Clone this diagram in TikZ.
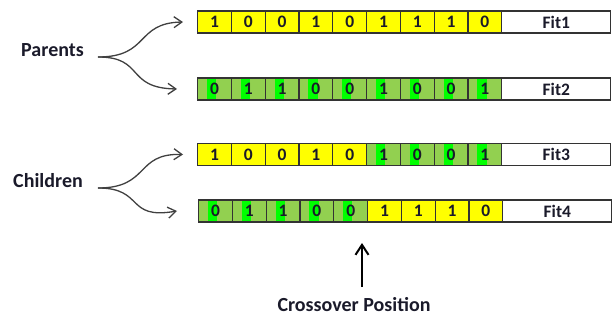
\documentclass[tikz,border=0pt]{standalone}
\usepackage{fontspec}
\setmainfont{Carlito}
\usetikzlibrary{arrows.meta}
\definecolor{cyel}{HTML}{FFFF00}
\definecolor{clg}{HTML}{92D050}
\definecolor{cbg}{HTML}{00FF00}
\definecolor{cbd}{HTML}{333333}
\definecolor{ctx}{HTML}{1A1A2A}
\tikzset{
  cell/.style={draw=cbd, line width=1.2pt, minimum width=33.8pt, minimum height=22pt,
    inner sep=0pt, anchor=west, text=ctx, font=\fontsize{17.5}{17.5}\selectfont\bfseries},
  Y/.style={cell, fill=cyel},
  G/.style={cell, fill=clg, path picture={\fill[cbg]
      ([xshift=9.4pt]path picture bounding box.south west) rectangle
      ([xshift=18.6pt]path picture bounding box.north west);}},
  fitbox/.style={draw=cbd, line width=1.2pt, minimum width=109pt, minimum height=22pt,
    inner sep=0pt, anchor=west, fill=white, text=ctx, font=\fontsize{17.5}{17.5}\selectfont\bfseries},
  lbl/.style={anchor=base, text=ctx, font=\fontsize{20}{20}\selectfont\bfseries},
  curv/.style={-{Straight Barb[length=8pt,width=11pt]}, line width=1.3pt, draw=black!75},
  uparr/.style={-{Straight Barb[length=10pt,width=13pt]}, line width=2pt, draw=black}
}
\begin{document}
\begin{tikzpicture}[x=1pt,y=-1pt]
\useasboundingbox (0,0) rectangle (615,320);

% Row 1 (parent 1)
\foreach \k/\v [count=\i] in {Y/1,Y/0,Y/0,Y/1,Y/0,Y/1,Y/1,Y/1,Y/0}
  \node[\k] (ra\i) at ({197+(\i-1)*33.8},22) {\v\hspace{6pt}};
\node[fitbox] (fa) at (501.2,22) {Fit1};

% Row 2 (parent 2)
\foreach \k/\v [count=\i] in {G/0,G/1,G/1,G/0,G/0,G/1,G/0,G/0,G/1}
  \node[\k] (rb\i) at ({197+(\i-1)*33.8},89) {\v\hspace{6pt}};
\node[fitbox] (fb) at (501.2,89) {Fit2};

% Row 3 (child 1)
\foreach \k/\v [count=\i] in {Y/1,Y/0,Y/0,Y/1,Y/0,G/1,G/0,G/0,G/1}
  \node[\k] (rc\i) at ({197+(\i-1)*33.8},154.5) {\v\hspace{6pt}};
\node[fitbox] (fc) at (501.2,154.5) {Fit3};

% Row 4 (child 2)
\foreach \k/\v [count=\i] in {G/0,G/1,G/1,G/0,G/0,Y/1,Y/1,Y/1,Y/0}
  \node[\k] (rd\i) at ({198+(\i-1)*33.8},211) {\v\hspace{6pt}};
\node[fitbox] (fd) at (502.2,211) {Fit4};

% Labels
\node[lbl] (par) at (52.5,57) {Parents};
\node[lbl] (chi) at (48,187.5) {Children};
\node[lbl] (cro) at (354,311.5) {Crossover Position};

% Curved arrows
\coordinate (ps) at (98,57);
\coordinate (cs) at (98,188);
\draw[curv] (ps) .. controls (150,57) and (135,23) .. ([xshift=-14pt]ra1.west);
\draw[curv] (ps) .. controls (145,57) and (125,88) .. ([xshift=-20pt]rb1.west);
\draw[curv] (cs) .. controls (150,188) and (135,153) .. ([xshift=-14pt]rc1.west);
\draw[curv] (cs) .. controls (145,188) and (125,220) .. ([xshift=-21pt]rd1.west);

% Crossover arrow
\coordinate (cb) at (362,287);
\coordinate (ct) at (362,243);
\draw[uparr] (cb) -- (ct);
\end{tikzpicture}
\end{document}
